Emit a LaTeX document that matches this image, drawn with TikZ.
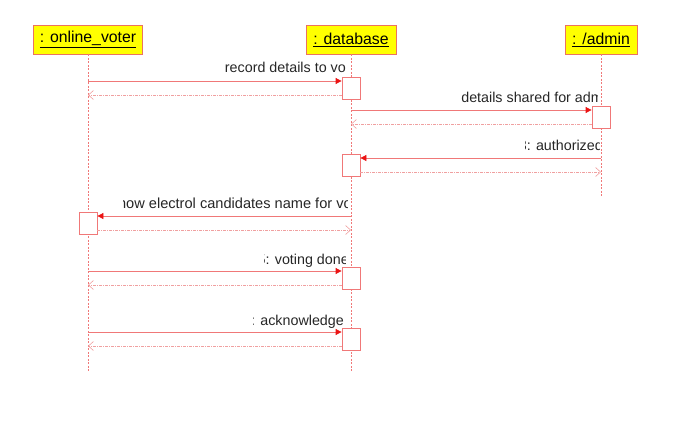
\documentclass[tikz,border=0pt]{standalone}
\usepackage{fontspec}
\setmainfont{Liberation Sans}
\usetikzlibrary{arrows.meta}
\definecolor{head_yellow}{RGB}{255,255,0}
\definecolor{edge_salmon}{RGB}{235,115,95}
\definecolor{line_red}{RGB}{240,120,120}
\definecolor{tip_red}{RGB}{235,20,20}
\definecolor{ret_red}{RGB}{240,160,160}

% clipped message label: name, clip left, clip right, baseline, text right, text
\newcommand{\msglabel}[6]{%
  \begin{scope}
    \clip (#2,#4-13) rectangle (#3,#4+4);
    \node[msgtext] (#1) at (#5,#4) {#6};
  \end{scope}}

\begin{document}
\begin{tikzpicture}[x=1pt,y=-1pt]
    \tikzstyle{object}=[draw=edge_salmon, fill=head_yellow, line width=0.8pt, minimum height=29pt, inner sep=0pt, font=\fontsize{15.8}{18}\selectfont]
    \tikzstyle{lifeline}=[draw=line_red, line width=0.6pt, dash pattern=on 2pt off 1.5pt]
    \tikzstyle{active}=[draw=line_red, fill=white, line width=0.8pt, minimum width=18pt, minimum height=22pt, inner sep=0pt]
    \tikzstyle{call}=[draw=line_red, line width=0.8pt, -{Triangle[length=6pt,width=6pt,color=tip_red]}]
    \tikzstyle{ret}=[draw=ret_red, line width=0.6pt, dash pattern=on 3pt off 1pt on 1pt off 1pt, -{Straight Barb[length=5pt,width=9pt]}]
    \tikzstyle{msgtext}=[anchor=base east, inner sep=0pt, text=black!85, font=\fontsize{14.3}{16}\selectfont]

    \useasboundingbox (0,0) rectangle (699,426);

    % objects
    \node[object, minimum width=109pt] (voter) at (88,39.5)  {\underline{: online\_voter}};
    \node[object, minimum width=90pt]  (db)    at (351,39.5) {\underline{: database}};
    \node[object, minimum width=72pt]  (admin) at (601,39.5) {\underline{: /admin}};

    % lifelines
    \coordinate (voter_end) at (88,372);
    \coordinate (db_end)    at (351,372);
    \coordinate (admin_end) at (601,197);
    \draw[lifeline] (voter.south) -- (voter_end);
    \draw[lifeline] (db.south)    -- (db_end);
    \draw[lifeline] (admin.south) -- (admin_end);

    % activations
    \node[active] (a1) at (351,88)  {};
    \node[active] (a2) at (601,117) {};
    \node[active] (a3) at (351,165) {};
    \node[active] (a4) at (88,223)  {};
    \node[active] (a5) at (351,278) {};
    \node[active] (a6) at (351,339) {};

    % message end points on the lifelines
    \coordinate (v1)  at (88,81);
    \coordinate (v1r) at (88,95);
    \coordinate (d2)  at (351,110);
    \coordinate (d2r) at (351,124);
    \coordinate (s3)  at (601,158);
    \coordinate (s3r) at (601,172);
    \coordinate (d4)  at (351,216);
    \coordinate (d4r) at (351,230);
    \coordinate (v5)  at (88,271);
    \coordinate (v5r) at (88,285);
    \coordinate (v6)  at (88,332);
    \coordinate (v6r) at (88,346);

    % messages
    \draw[call] (v1) -- (a1.west |- v1);
    \draw[ret]  (a1.west |- v1r) -- (v1r);
    \draw[call] (d2) -- (a2.west |- d2);
    \draw[ret]  (a2.west |- d2r) -- (d2r);
    \draw[call] (s3) -- (a3.east |- s3);
    \draw[ret]  (a3.east |- s3r) -- (s3r);
    \draw[call] (d4) -- (a4.east |- d4);
    \draw[ret]  (a4.east |- d4r) -- (d4r);
    \draw[call] (v5) -- (a5.west |- v5);
    \draw[ret]  (a5.west |- v5r) -- (v5r);
    \draw[call] (v6) -- (a6.west |- v6);
    \draw[ret]  (a6.west |- v6r) -- (v6r);

    % labels
    \msglabel{l1}{150}{347}{72}{346}{record details to vo}
    \msglabel{l2}{440}{597}{102}{603}{details shared for adm}
    \msglabel{l3}{525}{599.5}{150}{603}{3: authorized}
    \msglabel{l4}{123.5}{347}{208}{352}{\fontsize{14.6}{16}\selectfont show electrol candidates name for vo}
    \msglabel{l5}{264}{345}{264}{349}{5: voting done}
    \msglabel{l6}{253}{343.5}{325}{352}{6: acknowledged}
\end{tikzpicture}
\end{document}
